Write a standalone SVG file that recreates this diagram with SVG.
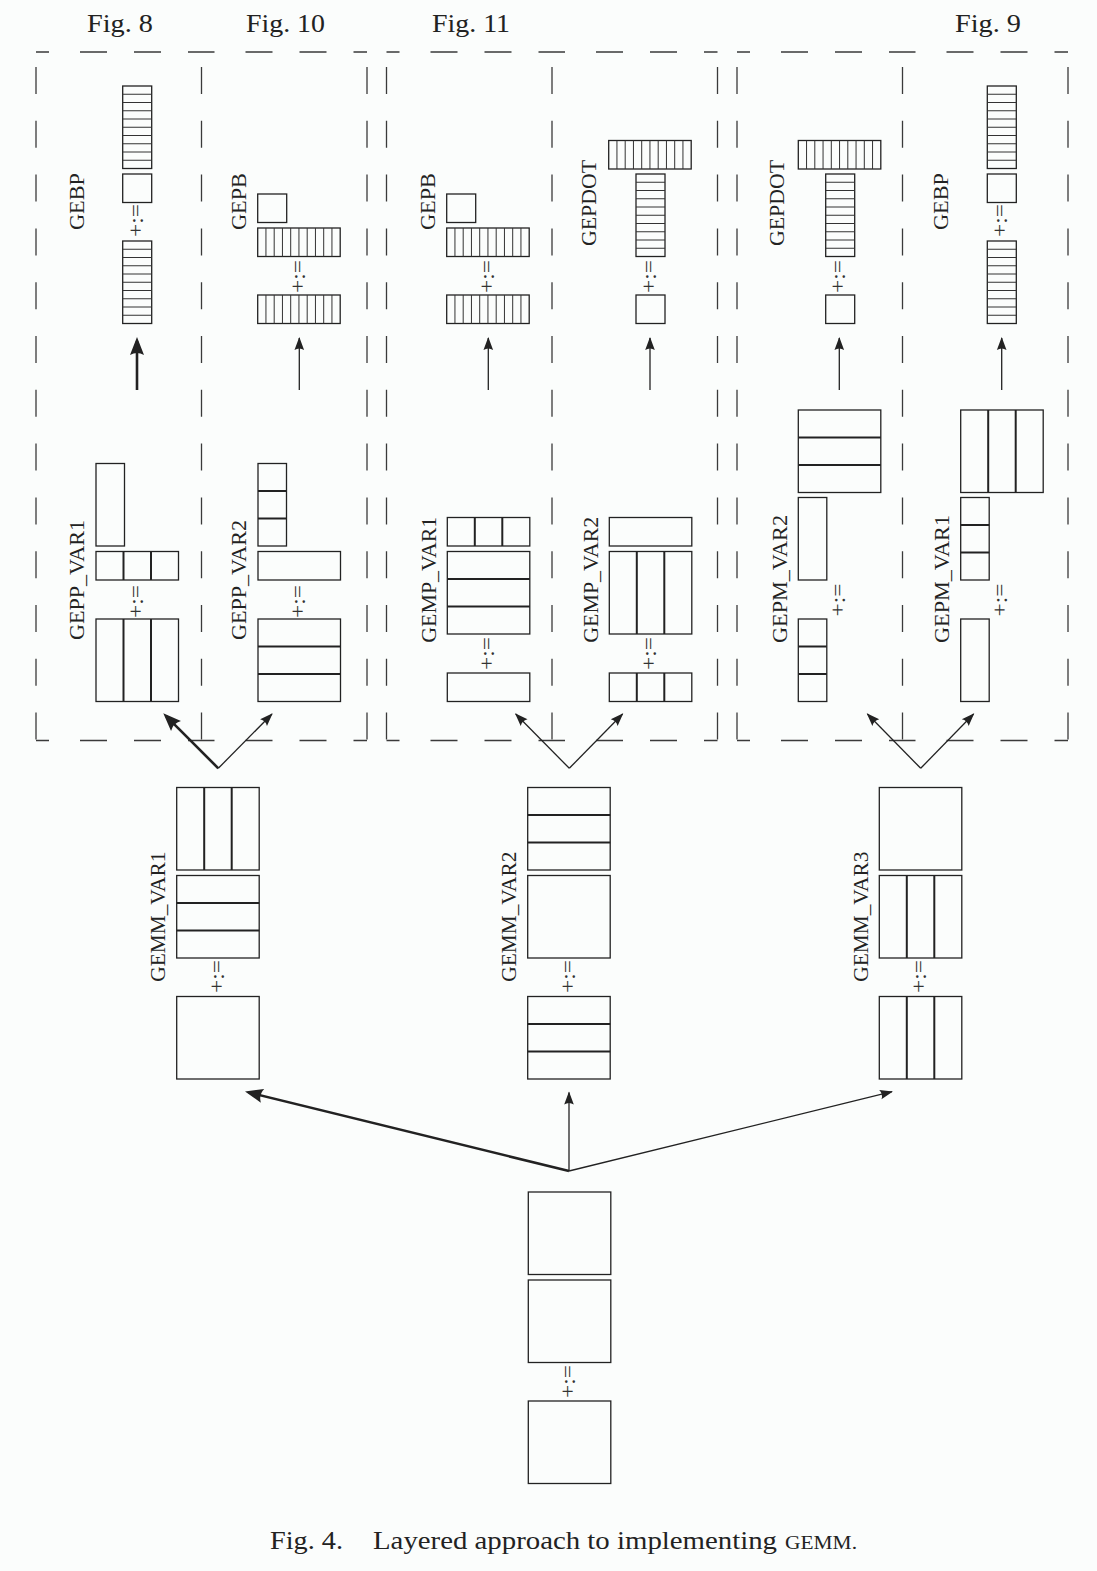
<svg xmlns="http://www.w3.org/2000/svg" xmlns:xlink="http://www.w3.org/1999/xlink" width="1097" height="1571" viewBox="0 0 1097 1571">
<style>
.b{fill:none;stroke:#222;stroke-width:1.3}
.d{fill:none;stroke:#222;stroke-width:2}
.dh{fill:none;stroke:#3a3a3a;stroke-width:1.3;stroke-dasharray:13 31 27 27 27 27 13.5 0}
.dv{fill:none;stroke:#3a3a3a;stroke-width:1.3;stroke-dasharray:27 26.8;stroke-dashoffset:38.8}
.t{font-family:"Liberation Serif","Times New Roman",serif;font-size:21px;fill:#222}
.pe{font-family:"Liberation Serif","Times New Roman",serif;font-size:20px;fill:#333}
.fig{font-family:"Liberation Serif","Times New Roman",serif;font-size:25px;fill:#222}
.thin{fill:none;stroke:#222;stroke-width:1.3}
.thick{fill:none;stroke:#222;stroke-width:2.6}
</style>
<defs>
<marker id="ah" markerUnits="userSpaceOnUse" viewBox="-16 -8 20 16" refX="0" refY="0" markerWidth="20" markerHeight="16" orient="auto">
<path d="M1 0 L-12 -4.8 Q-9 0 -12 4.8 Z" fill="#222"/>
</marker>
<marker id="ahT" markerUnits="userSpaceOnUse" viewBox="-22 -10 28 20" refX="0" refY="0" markerWidth="28" markerHeight="20" orient="auto">
<path d="M4 0 L-14 -7 Q-10 0 -14 7 Z" fill="#222"/>
</marker>
<g id="tv">
<rect x="0" y="0" width="29" height="82.5" fill="none" stroke="#222" stroke-width="1.3"/>
<path d="M0 8.25H29M0 16.5H29M0 24.75H29M0 33H29M0 41.25H29M0 49.5H29M0 57.75H29M0 66H29M0 74.25H29" fill="none" stroke="#333" stroke-width="1"/>
</g>
<g id="wh">
<rect x="0" y="0" width="82.5" height="28.5" fill="none" stroke="#222" stroke-width="1.3"/>
<path d="M8.25 0V28.5M16.5 0V28.5M24.75 0V28.5M33 0V28.5M41.25 0V28.5M49.5 0V28.5M57.75 0V28.5M66 0V28.5M74.25 0V28.5" fill="none" stroke="#333" stroke-width="1"/>
</g>
</defs>
<rect x="0" y="0" width="1097" height="1571" fill="#fbfdfc"/>

<g id="figure-labels">
<text class="fig" x="120" y="32" text-anchor="middle" textLength="66" lengthAdjust="spacingAndGlyphs">Fig. 8</text>
<text class="fig" x="285.5" y="32" text-anchor="middle" textLength="79" lengthAdjust="spacingAndGlyphs">Fig. 10</text>
<text class="fig" x="471" y="32" text-anchor="middle" textLength="78" lengthAdjust="spacingAndGlyphs">Fig. 11</text>
<text class="fig" x="988" y="32" text-anchor="middle" textLength="66" lengthAdjust="spacingAndGlyphs">Fig. 9</text>
</g>

<g id="dashed-boxes">
<path class="dh" d="M36 52H201.5M201.5 52H367M36 740.5H201.5M201.5 740.5H367"/>
<path class="dv" d="M36 52V740.5M201.5 52V740.5M367 52V740.5"/>
<path class="dh" d="M386.5 52H552M552 52H717.5M386.5 740.5H552M552 740.5H717.5"/>
<path class="dv" d="M386.5 52V740.5M552 52V740.5M717.5 52V740.5"/>
<path class="dh" d="M737 52H902.5M902.5 52H1068M737 740.5H902.5M902.5 740.5H1068"/>
<path class="dv" d="M737 52V740.5M902.5 52V740.5M1068 52V740.5"/>
</g>

<g id="gebp-fig8">
<use href="#tv" x="122.7" y="86"/>
<rect class="b" x="122.7" y="174" width="29" height="28.5"/>
<text class="pe" transform="translate(137,220.5) rotate(-90)" text-anchor="middle" dy="0.28em" textLength="33" lengthAdjust="spacingAndGlyphs">+:=</text>
<use href="#tv" x="122.7" y="241"/>
<text class="t" transform="translate(76.7,201.5) rotate(-90)" text-anchor="middle" dy="0.33em" textLength="57" lengthAdjust="spacingAndGlyphs">GEBP</text>
</g>

<g id="gepb-fig10">
<rect class="b" x="257.7" y="194" width="29" height="28.5"/>
<use href="#wh" x="257.7" y="228"/>
<text class="pe" transform="translate(299.3,276.5) rotate(-90)" text-anchor="middle" dy="0.28em" textLength="33" lengthAdjust="spacingAndGlyphs">+:=</text>
<use href="#wh" x="257.7" y="295"/>
<text class="t" transform="translate(239,201.5) rotate(-90)" text-anchor="middle" dy="0.33em" textLength="57" lengthAdjust="spacingAndGlyphs">GEPB</text>
</g>

<g id="gepb-fig11">
<rect class="b" x="446.7" y="194" width="29" height="28.5"/>
<use href="#wh" x="446.7" y="228"/>
<text class="pe" transform="translate(488.3,276.5) rotate(-90)" text-anchor="middle" dy="0.28em" textLength="33" lengthAdjust="spacingAndGlyphs">+:=</text>
<use href="#wh" x="446.7" y="295"/>
<text class="t" transform="translate(428.3,201.5) rotate(-90)" text-anchor="middle" dy="0.33em" textLength="57" lengthAdjust="spacingAndGlyphs">GEPB</text>
</g>

<g id="gepdot-fig11">
<use href="#wh" x="608.7" y="140.5"/>
<use href="#tv" x="636" y="174"/>
<text class="pe" transform="translate(650,276.5) rotate(-90)" text-anchor="middle" dy="0.28em" textLength="33" lengthAdjust="spacingAndGlyphs">+:=</text>
<rect class="b" x="636" y="295" width="29" height="28.5"/>
<text class="t" transform="translate(589.3,203) rotate(-90)" text-anchor="middle" dy="0.33em" textLength="86" lengthAdjust="spacingAndGlyphs">GEPDOT</text>
</g>

<g id="gepdot-fig9">
<use href="#wh" x="798.3" y="140.5"/>
<use href="#tv" x="825.7" y="174"/>
<text class="pe" transform="translate(839.3,276.5) rotate(-90)" text-anchor="middle" dy="0.28em" textLength="33" lengthAdjust="spacingAndGlyphs">+:=</text>
<rect class="b" x="825.7" y="295" width="29" height="28.5"/>
<text class="t" transform="translate(777.3,203) rotate(-90)" text-anchor="middle" dy="0.33em" textLength="86" lengthAdjust="spacingAndGlyphs">GEPDOT</text>
</g>

<g id="gebp-fig9">
<use href="#tv" x="987.3" y="86"/>
<rect class="b" x="987.3" y="174" width="29" height="28.5"/>
<text class="pe" transform="translate(1001.7,220.5) rotate(-90)" text-anchor="middle" dy="0.28em" textLength="33" lengthAdjust="spacingAndGlyphs">+:=</text>
<use href="#tv" x="987.3" y="241"/>
<text class="t" transform="translate(940.7,201.5) rotate(-90)" text-anchor="middle" dy="0.33em" textLength="57" lengthAdjust="spacingAndGlyphs">GEBP</text>
</g>

<g id="gepp-var1">
<rect class="b" x="96" y="463.5" width="28.5" height="82.5"/>
<rect class="b" x="96" y="551.5" width="82.5" height="28.5"/>
<path class="d" d="M123.5 551.5V580M151 551.5V580"/>
<text class="pe" transform="translate(137.3,601.5) rotate(-90)" text-anchor="middle" dy="0.28em" textLength="33" lengthAdjust="spacingAndGlyphs">+:=</text>
<rect class="b" x="96" y="619" width="82.5" height="82.5"/>
<path class="d" d="M123.5 619V701.5M151 619V701.5"/>
<text class="t" transform="translate(76.7,580) rotate(-90)" text-anchor="middle" dy="0.33em" textLength="120" lengthAdjust="spacingAndGlyphs">GEPP_VAR1</text>
</g>

<g id="gepp-var2">
<rect class="b" x="258" y="463.5" width="28.5" height="82.5"/>
<path class="d" d="M258 491H286.5M258 518.5H286.5"/>
<rect class="b" x="258" y="551.5" width="82.5" height="28.5"/>
<text class="pe" transform="translate(299.3,601.5) rotate(-90)" text-anchor="middle" dy="0.28em" textLength="33" lengthAdjust="spacingAndGlyphs">+:=</text>
<rect class="b" x="258" y="619" width="82.5" height="82.5"/>
<path class="d" d="M258 646.5H340.5M258 674H340.5"/>
<text class="t" transform="translate(239.3,580) rotate(-90)" text-anchor="middle" dy="0.33em" textLength="120" lengthAdjust="spacingAndGlyphs">GEPP_VAR2</text>
</g>

<g id="gemp-var1">
<rect class="b" x="447.3" y="517.5" width="82.5" height="28.5"/>
<path class="d" d="M474.8 517.5V546M502.3 517.5V546"/>
<rect class="b" x="447.3" y="551.5" width="82.5" height="82.5"/>
<path class="d" d="M447.3 579H529.8M447.3 606.5H529.8"/>
<text class="pe" transform="translate(488.3,653.5) rotate(-90)" text-anchor="middle" dy="0.28em" textLength="33" lengthAdjust="spacingAndGlyphs">+:=</text>
<rect class="b" x="447.3" y="673" width="82.5" height="28.5"/>
<text class="t" transform="translate(429.3,579.7) rotate(-90)" text-anchor="middle" dy="0.33em" textLength="126" lengthAdjust="spacingAndGlyphs">GEMP_VAR1</text>
</g>

<g id="gemp-var2">
<rect class="b" x="609.3" y="517.5" width="82.5" height="28.5"/>
<rect class="b" x="609.3" y="551.5" width="82.5" height="82.5"/>
<path class="d" d="M636.8 551.5V634M664.3 551.5V634"/>
<text class="pe" transform="translate(650.7,653.5) rotate(-90)" text-anchor="middle" dy="0.28em" textLength="33" lengthAdjust="spacingAndGlyphs">+:=</text>
<rect class="b" x="609.3" y="673" width="82.5" height="28.5"/>
<path class="d" d="M636.8 673V701.5M664.3 673V701.5"/>
<text class="t" transform="translate(590.7,579.7) rotate(-90)" text-anchor="middle" dy="0.33em" textLength="126" lengthAdjust="spacingAndGlyphs">GEMP_VAR2</text>
</g>

<g id="gepm-var2">
<rect class="b" x="798.3" y="410" width="82.5" height="82.5"/>
<path class="d" d="M798.3 437.5H880.8M798.3 465H880.8"/>
<rect class="b" x="798.3" y="497.5" width="28.5" height="82.5"/>
<text class="pe" transform="translate(839.3,600) rotate(-90)" text-anchor="middle" dy="0.28em" textLength="33" lengthAdjust="spacingAndGlyphs">+:=</text>
<rect class="b" x="798.3" y="619" width="28.5" height="82.5"/>
<path class="d" d="M798.3 646.5H826.8M798.3 674H826.8"/>
<text class="t" transform="translate(780,579) rotate(-90)" text-anchor="middle" dy="0.33em" textLength="128" lengthAdjust="spacingAndGlyphs">GEPM_VAR2</text>
</g>

<g id="gepm-var1">
<rect class="b" x="960.7" y="410" width="82.5" height="82.5"/>
<path class="d" d="M988.2 410V492.5M1015.7 410V492.5"/>
<rect class="b" x="960.7" y="497.5" width="28.5" height="82.5"/>
<path class="d" d="M960.7 525H989.2M960.7 552.5H989.2"/>
<text class="pe" transform="translate(1001.7,600) rotate(-90)" text-anchor="middle" dy="0.28em" textLength="33" lengthAdjust="spacingAndGlyphs">+:=</text>
<rect class="b" x="960.7" y="619" width="28.5" height="82.5"/>
<text class="t" transform="translate(941.7,579) rotate(-90)" text-anchor="middle" dy="0.33em" textLength="128" lengthAdjust="spacingAndGlyphs">GEPM_VAR1</text>
</g>

<g id="gemm-var1">
<rect class="b" x="176.7" y="787.5" width="82.5" height="82.5"/>
<path class="d" d="M204.2 787.5V870M231.7 787.5V870"/>
<rect class="b" x="176.7" y="875.5" width="82.5" height="82.5"/>
<path class="d" d="M176.7 903H259.2M176.7 930.5H259.2"/>
<text class="pe" transform="translate(218.3,976.5) rotate(-90)" text-anchor="middle" dy="0.28em" textLength="33" lengthAdjust="spacingAndGlyphs">+:=</text>
<rect class="b" x="176.7" y="996.5" width="82.5" height="82.5"/>
<text class="t" transform="translate(158.3,916.7) rotate(-90)" text-anchor="middle" dy="0.33em" textLength="130" lengthAdjust="spacingAndGlyphs">GEMM_VAR1</text>
</g>

<g id="gemm-var2">
<rect class="b" x="527.7" y="787.5" width="82.5" height="82.5"/>
<path class="d" d="M527.7 815H610.2M527.7 842.5H610.2"/>
<rect class="b" x="527.7" y="875.5" width="82.5" height="82.5"/>
<text class="pe" transform="translate(569,976.5) rotate(-90)" text-anchor="middle" dy="0.28em" textLength="33" lengthAdjust="spacingAndGlyphs">+:=</text>
<rect class="b" x="527.7" y="996.5" width="82.5" height="82.5"/>
<path class="d" d="M527.7 1024H610.2M527.7 1051.5H610.2"/>
<text class="t" transform="translate(509.3,916.7) rotate(-90)" text-anchor="middle" dy="0.33em" textLength="130" lengthAdjust="spacingAndGlyphs">GEMM_VAR2</text>
</g>

<g id="gemm-var3">
<rect class="b" x="879.3" y="787.5" width="82.5" height="82.5"/>
<rect class="b" x="879.3" y="875.5" width="82.5" height="82.5"/>
<path class="d" d="M906.8 875.5V958M934.3 875.5V958"/>
<text class="pe" transform="translate(920,976.5) rotate(-90)" text-anchor="middle" dy="0.28em" textLength="33" lengthAdjust="spacingAndGlyphs">+:=</text>
<rect class="b" x="879.3" y="996.5" width="82.5" height="82.5"/>
<path class="d" d="M906.8 996.5V1079M934.3 996.5V1079"/>
<text class="t" transform="translate(860.7,916.7) rotate(-90)" text-anchor="middle" dy="0.33em" textLength="130" lengthAdjust="spacingAndGlyphs">GEMM_VAR3</text>
</g>

<g id="gemm">
<rect class="b" x="528.3" y="1192" width="82.5" height="82.5"/>
<rect class="b" x="528.3" y="1280" width="82.5" height="82.5"/>
<text class="pe" transform="translate(569.3,1381.5) rotate(-90)" text-anchor="middle" dy="0.28em" textLength="33" lengthAdjust="spacingAndGlyphs">+:=</text>
<rect class="b" x="528.3" y="1401" width="82.5" height="82.5"/>
</g>

<g id="connectors">
<path class="thick" d="M137 390V341" marker-end="url(#ahT)"/>
<path class="thin" d="M299.3 390V338" marker-end="url(#ah)"/>
<path class="thin" d="M488.3 390V338" marker-end="url(#ah)"/>
<path class="thin" d="M650 390V338" marker-end="url(#ah)"/>
<path class="thin" d="M839.3 390V338" marker-end="url(#ah)"/>
<path class="thin" d="M1001.7 390V338" marker-end="url(#ah)"/>
<path class="thick" d="M218.3 768.3L166.1 716.1" marker-end="url(#ahT)"/>
<path class="thin" d="M218.3 768.3L272 714" marker-end="url(#ah)"/>
<path class="thin" d="M569.3 768.3L515.7 714" marker-end="url(#ah)"/>
<path class="thin" d="M569.3 768.3L622.6 714" marker-end="url(#ah)"/>
<path class="thin" d="M920.7 768.3L867.4 714" marker-end="url(#ah)"/>
<path class="thin" d="M920.7 768.3L973.6 714" marker-end="url(#ah)"/>
<path class="thick" d="M569 1171L248.9 1092.5" marker-end="url(#ahT)"/>
<path class="thin" d="M569 1171V1092.5" marker-end="url(#ah)"/>
<path class="thin" d="M569 1171L892 1091.7" marker-end="url(#ah)"/>
</g>

<g id="caption">
<text class="fig" x="270" y="1549" font-size="24" textLength="73" lengthAdjust="spacingAndGlyphs">Fig. 4.</text>
<text class="fig" x="373" y="1549" textLength="404" lengthAdjust="spacingAndGlyphs">Layered approach to implementing</text>
<text class="fig" x="785" y="1549" font-size="19" textLength="72" lengthAdjust="spacingAndGlyphs" style="font-size:19px">GEMM.</text>
</g>
</svg>
